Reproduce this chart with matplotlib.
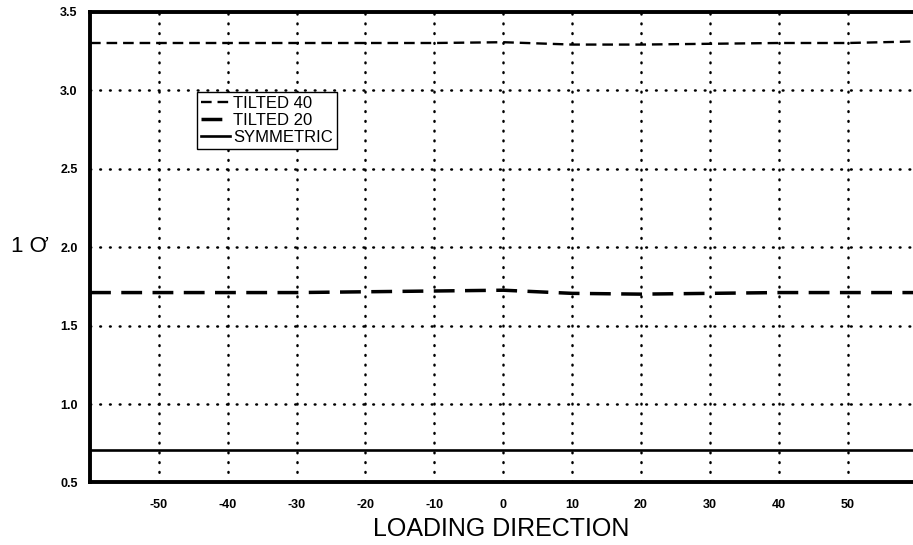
import matplotlib
matplotlib.use("Agg")
import matplotlib.pyplot as plt

# loading direction (deg)
direction = [-60, -50, -40, -30, -20, -10, 0, 10, 20, 30, 40, 50, 60]
tilted40 = [3.30, 3.30, 3.30, 3.30, 3.30, 3.30, 3.305, 3.29, 3.29, 3.295, 3.30, 3.30, 3.31]
tilted20 = [1.71, 1.71, 1.71, 1.71, 1.715, 1.72, 1.725, 1.705, 1.70, 1.705, 1.71, 1.71, 1.71]
symmetric = [0.71, 0.71, 0.71, 0.71, 0.71, 0.71, 0.71, 0.71, 0.71, 0.71, 0.71, 0.71, 0.71]

xticks = [-50, -40, -30, -20, -10, 0, 10, 20, 30, 40, 50]
yticks = [0.5, 1.0, 1.5, 2.0, 2.5, 3.0, 3.5]

plt.rcParams["font.family"] = ["Liberation Sans", "DejaVu Sans"]
plt.rcParams["axes.unicode_minus"] = False

fig = plt.figure(figsize=(9.13, 5.45), dpi=100)
ax = fig.add_axes([0.0986, 0.1147, 0.9014, 0.864])

# dotted grid
for xv in xticks:
    ax.axvline(xv, color="black", lw=1.8, ls=(0, (0.3, 3.6)), dash_capstyle="round", zorder=1)
for yv in yticks[1:-1]:
    ax.axhline(yv, color="black", lw=1.8, ls=(0, (0.3, 3.6)), dash_capstyle="round", zorder=1)

ax.plot(direction, tilted40, color="black", lw=1.7, ls=(0, (4.5, 2.5)), label="TILTED 40", zorder=3)
ax.plot(direction, tilted20, color="black", lw=2.5, ls=(0, (6, 3)), label="TILTED 20", zorder=3)
ax.plot(direction, symmetric, color="black", lw=1.9, label="SYMMETRIC", zorder=3)

ax.set_xlim(-60, 59.5)
ax.set_ylim(0.5, 3.5)
ax.set_xticks(xticks)
ax.set_yticks(yticks)
ax.set_yticklabels(["0.5", "1.0", "1.5", "2.0", "2.5", "3.0", "3.5"])
ax.tick_params(length=0, labelsize=9, pad=9)
for lab in ax.get_xticklabels() + ax.get_yticklabels():
    lab.set_fontweight("bold")
ax.tick_params(axis="x", pad=12)

for s in ["left", "top", "bottom"]:
    ax.spines[s].set_linewidth(2.8)
ax.spines["right"].set_visible(False)

ax.set_xlabel("LOADING DIRECTION", fontsize=18, labelpad=4)
fig.text(0.012, 0.548, "1 Ơ", fontsize=16, va="center", ha="left")

leg = ax.legend(loc="upper left", bbox_to_anchor=(0.13, 0.83), frameon=True, fancybox=False,
                edgecolor="black", framealpha=1, fontsize=12, handlelength=1.7,
                handletextpad=0.2, borderpad=0.25, labelspacing=0.12, borderaxespad=0)
leg.get_frame().set_linewidth(1.0)
leg.set_zorder(5)

fig.savefig("out.png", dpi=100)
